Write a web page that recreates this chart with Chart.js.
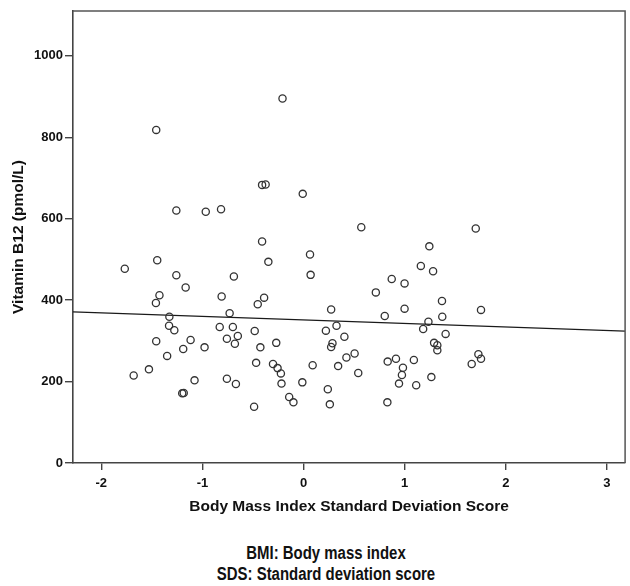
<!DOCTYPE html>
<html>
<head>
<meta charset="utf-8">
<script src="https://cdn.jsdelivr.net/npm/chart.js@4"></script>
<style>
  html, body { margin: 0; padding: 0; background: #fff; overflow: hidden; }
  #wrap { position: absolute; left: 0; top: 0; width: 630px; height: 530px; }
  #note { position: absolute; left: 126px; top: 543px; width: 400px; text-align: center;
          font-family: "Liberation Sans", Arial, sans-serif;
          font-weight: bold; font-size: 18px; line-height: 21px; color: #111;
          transform: scaleX(0.83); transform-origin: 200px 0; }
</style>
</head>
<body>
<div id="wrap"><canvas id="c"></canvas></div>
<div id="note">BMI: Body mass index<br>SDS: Standard deviation score</div>
<script>
// Data
const bmiSds = [
  -1.457, -0.208, -1.258, -0.967, -0.816, -0.41, -0.375, -0.008, 0.571, 1.703, 1.244, -0.41,
  -1.768, -1.447, -1.258, -1.166, -1.425, -1.46, -1.327, -1.33, -1.278, -1.457, -1.117, -1.19,
  -0.979, -1.349, -1.529, -1.68, -1.078, -1.20, -1.185, -0.81, -0.689, -0.731, -0.829, -0.699,
  -0.758, -0.65, -0.679, -0.758, -0.669, -0.348, -0.39, -0.453, -0.483, -0.427, -0.469, -0.27,
  -0.302, -0.257, -0.224, -0.218, -0.142, -0.10, -0.489, -0.012, 0.064, 0.07, 0.09,
  0.273, 0.221, 0.326, 0.404, 0.286, 0.273, 0.505, 0.424, 0.342, 0.541, 0.24, 0.26,
  0.715, 0.803, 0.872, 0.999, 0.999, 0.832, 0.914, 0.983, 0.973, 0.944, 1.091, 1.114, 0.829,
  1.16, 1.281, 1.369, 1.372, 1.235, 1.183, 1.405, 1.291, 1.323, 1.323, 1.264,
  1.755, 1.729, 1.755, 1.663
];
const vitaminB12 = [
  818, 895, 620, 617, 623, 683, 684, 661, 579, 576, 532, 544,
  477, 498, 461, 431, 412, 393, 359, 337, 326, 299, 302, 280,
  284, 263, 230, 215, 203, 171, 172, 409, 458, 368, 334, 334,
  305, 312, 293, 207, 194, 494, 406, 390, 324, 284, 246, 295,
  243, 233, 220, 195, 162, 149, 138, 198, 512, 462, 240,
  377, 325, 337, 310, 294, 285, 269, 259, 238, 221, 181, 144,
  419, 361, 452, 441, 379, 249, 256, 234, 216, 195, 253, 191, 149,
  484, 471, 398, 359, 347, 329, 317, 295, 289, 277, 211,
  376, 267, 256, 243
];
// Fit line end points
const fitX = [-2.28, 3.18];
const fitY = [371, 324];
// Tick values
const xTicks = [-2, -1, 0, 1, 2, 3];
const yTicks = [0, 200, 400, 600, 800, 1000];

const scatterData = bmiSds.map((x, i) => ({ x: x, y: vitaminB12[i] }));
const fitData = fitX.map((x, i) => ({ x: x, y: fitY[i] }));

const frame = {
  id: 'frame',
  afterDatasetsDraw(chart) {
    const a = chart.chartArea, ctx = chart.ctx;
    ctx.save();
    ctx.strokeStyle = '#555';
    ctx.lineWidth = 1.5;
    ctx.beginPath();
    ctx.moveTo(a.left, a.top);
    ctx.lineTo(a.right, a.top);
    ctx.lineTo(a.right, a.bottom);
    ctx.stroke();
    ctx.restore();
  }
};

const tickFont = { family: '"Liberation Sans", Arial, sans-serif', size: 13, weight: 'bold' };
const titleFont = { family: '"Liberation Sans", Arial, sans-serif', size: 15.5, weight: 'bold' };

new Chart(document.getElementById('c'), {
  data: {
    datasets: [
      {
        type: 'scatter',
        data: scatterData,
        pointRadius: 3.6,
        pointBorderWidth: 1.3,
        borderColor: '#333',
        backgroundColor: 'rgba(0,0,0,0)',
        pointHoverRadius: 3.6
      },
      {
        type: 'line',
        data: fitData,
        borderColor: '#1a1a1a',
        borderWidth: 1.3,
        pointRadius: 0,
        fill: false
      }
    ]
  },
  options: {
    responsive: true,
    maintainAspectRatio: false,
    animation: false,
    layout: { padding: { top: 11, right: 1, left: 0, bottom: 0 } },
    plugins: { legend: { display: false }, tooltip: { enabled: false } },
    scales: {
      x: {
        type: 'linear',
        min: -2.28,
        max: 3.18,
        afterBuildTicks: s => { s.ticks = xTicks.map(v => ({ value: v })); },
        afterFit: s => { s.height = 67; },
        border: { display: true, color: '#444', width: 1.6 },
        grid: { display: true, drawOnChartArea: false, drawTicks: true, tickLength: 7, color: '#444', lineWidth: 1.4 },
        ticks: { color: '#111', font: tickFont, padding: 6, maxRotation: 0, autoSkip: false,
                 callback: v => String(v) },
        title: { display: true, text: 'Body Mass Index Standard Deviation Score', color: '#111', font: titleFont, padding: { top: 0, bottom: 13.5 } }
      },
      y: {
        type: 'linear',
        min: 0,
        max: 1110,
        afterBuildTicks: s => { s.ticks = yTicks.map(v => ({ value: v })); },
        afterFit: s => { s.width = 73; },
        border: { display: true, color: '#444', width: 1.6 },
        grid: { display: true, drawOnChartArea: false, drawTicks: true, tickLength: 8, color: '#444', lineWidth: 1.4 },
        ticks: { color: '#111', font: tickFont, padding: 2, autoSkip: false,
                 callback: v => String(v) },
        title: { display: true, text: 'Vitamin B12 (pmol/L)', color: '#111', font: titleFont, padding: { top: 9, bottom: 0 } }
      }
    }
  },
  plugins: [frame]
});
</script>
</body>
</html>
